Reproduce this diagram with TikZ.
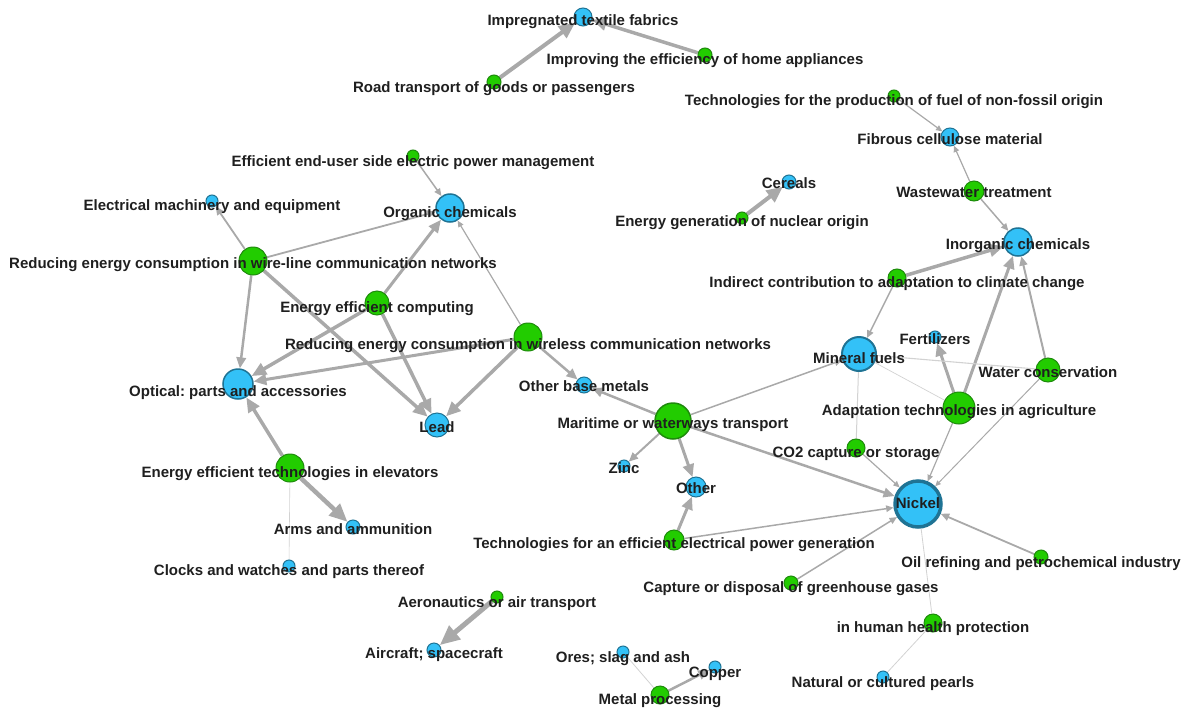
\documentclass[tikz,border=0pt]{standalone}
\usepackage{fontspec}
\setmainfont{Liberation Sans}
\usetikzlibrary{arrows.meta}
\definecolor{bfill}{HTML}{33C1F7}
\definecolor{bline}{HTML}{1F7394}
\definecolor{gfill}{HTML}{22CC00}
\definecolor{gline}{HTML}{1E8A0C}
\definecolor{egray}{HTML}{A9A9A9}
\definecolor{elight}{HTML}{D2D2D2}
\pgfdeclarelayer{bg}
\pgfsetlayers{bg,main}
\frenchspacing
\tikzset{%
    bn/.style={circle, draw=bline, fill=bfill, line width=1pt, inner sep=0pt, minimum size=#1},
    gn/.style={circle, draw=gline, fill=gfill, line width=1pt, inner sep=0pt, minimum size=#1},
    lbl/.style={font=\bfseries\fontsize{15}{17}\selectfont, text=black!88, inner sep=0pt,
        text height=10.5pt, text depth=3pt, yshift=-2pt},
    arr/.style={draw=egray, line width=#1, -{Triangle[length=2pt 3.6, width=2pt 3]}},
    lnk/.style={draw=elight, line width=#1},
}

\begin{document}
\begin{tikzpicture}[x=1pt, y=-1pt]
    \useasboundingbox (0,0) rectangle (1186,707);
    % nodes
    \node [bn=18] (impr)   at (583,17)  {};
    \node [gn=14] (impro)  at (705,55)  {};
    \node [gn=14] (road)   at (494,82)  {};
    \node [gn=12] (tfuel)  at (894,96)  {};
    \node [bn=18] (fibr)   at (950,137) {};
    \node [gn=12] (endu)   at (413,156) {};
    \node [bn=14] (cere)   at (789,182) {};
    \node [gn=20] (waste)  at (974,191) {};
    \node [bn=12] (elmach) at (212,201) {};
    \node [bn=28, line width=1.5pt] (orgch) at (450,208) {};
    \node [gn=12] (nucl)   at (742,218) {};
    \node [bn=28, line width=1.5pt] (inorg) at (1018,242) {};
    \node [gn=28] (wline)  at (253,261) {};
    \node [gn=18] (indir)  at (897,278) {};
    \node [gn=24] (comp)   at (377,303) {};
    \node [bn=12] (fert)   at (935,337) {};
    \node [gn=28] (wless)  at (528,337) {};
    \node [bn=34, line width=2pt] (minf) at (859,354) {};
    \node [gn=24] (water)  at (1048,370) {};
    \node [bn=30, line width=1.5pt] (optic) at (238,384) {};
    \node [bn=16] (obase)  at (584,385) {};
    \node [gn=32] (adapt)  at (959,408) {};
    \node [gn=36, line width=1.5pt] (marit) at (673,421) {};
    \node [bn=24] (lead)   at (437,425) {};
    \node [gn=18] (co2)    at (856,448) {};
    \node [gn=28] (elev)   at (290,468) {};
    \node [bn=12] (zinc)   at (624,466) {};
    \node [bn=20] (other)  at (696,487) {};
    \node [bn=46, line width=3.5pt] (nickel) at (918,504) {};
    \node [bn=14] (arms)   at (353,527) {};
    \node [gn=20] (tpow)   at (674,540) {};
    \node [gn=14] (oil)    at (1041,557) {};
    \node [bn=12] (clock)  at (289,566) {};
    \node [gn=14] (capt)   at (791,583) {};
    \node [gn=12] (aero)   at (497,597) {};
    \node [gn=18] (health) at (933,623) {};
    \node [bn=14] (craft)  at (434,650) {};
    \node [bn=12] (ores)   at (623,652) {};
    \node [bn=12] (copper) at (715,667) {};
    \node [bn=12] (pearl)  at (883,677) {};
    \node [gn=18] (metal)  at (660,695) {};
    % labels
    \node [lbl] (impr-t)   at ([yshift=-3pt]impr)   {Impregnated textile fabrics};
    \node [lbl] (impro-t)  at ([yshift=-4pt]impro)  {Improving the efficiency of home appliances};
    \node [lbl] (road-t)   at ([yshift=-5pt]road)   {Road transport of goods or passengers};
    \node [lbl] (tfuel-t)  at ([yshift=-4pt]tfuel)  {Technologies for the production of fuel of non-fossil origin};
    \node [lbl] (fibr-t)   at ([yshift=-2pt]fibr)   {Fibrous cellulose material};
    \node [lbl] (endu-t)   at ([yshift=-5pt]endu)   {Efficient end-user side electric power management};
    \node [lbl] (cere-t)   at ([yshift=-1pt]cere)   {Cereals};
    \node [lbl] (waste-t)  at ([yshift=-1pt]waste)  {Wastewater treatment};
    \node [lbl] (elmach-t) at ([yshift=-4pt]elmach) {Electrical machinery and equipment};
    \node [lbl] (orgch-t)  at ([yshift=-4pt]orgch)  {Organic chemicals};
    \node [lbl] (nucl-t)   at ([yshift=-3pt]nucl)   {Energy generation of nuclear origin};
    \node [lbl] (inorg-t)  at ([yshift=-2pt]inorg)  {Inorganic chemicals};
    \node [lbl] (wline-t)  at ([yshift=-2pt]wline)  {Reducing energy consumption in wire-line communication networks};
    \node [lbl] (indir-t)  at ([yshift=-4pt]indir)  {Indirect contribution to adaptation to climate change};
    \node [lbl] (comp-t)   at ([yshift=-4pt]comp)   {Energy efficient computing};
    \node [lbl] (fert-t)   at ([yshift=-2pt]fert)   {Fertilizers};
    \node [lbl] (wless-t)  at ([yshift=-7pt]wless)  {Reducing energy consumption in wireless communication networks};
    \node [lbl] (minf-t)   at ([yshift=-4pt]minf)   {Mineral fuels};
    \node [lbl] (water-t)  at ([yshift=-2pt]water)  {Water conservation};
    \node [lbl] (optic-t)  at ([yshift=-7pt]optic)  {Optical: parts and accessories};
    \node [lbl] (obase-t)  at ([yshift=-1pt]obase)  {Other base metals};
    \node [lbl] (adapt-t)  at ([yshift=-2pt]adapt)  {Adaptation technologies in agriculture};
    \node [lbl] (marit-t)  at ([yshift=-2pt]marit)  {Maritime or waterways transport};
    \node [lbl] (lead-t)   at ([yshift=-2pt]lead)   {Lead};
    \node [lbl] (co2-t)    at ([yshift=-4pt]co2)    {CO2 capture or storage};
    \node [lbl] (elev-t)   at ([yshift=-4pt]elev)   {Energy efficient technologies in elevators};
    \node [lbl] (zinc-t)   at ([yshift=-2pt]zinc)   {Zinc};
    \node [lbl] (other-t)  at ([yshift=-1pt]other)  {Other};
    \node [lbl] (nickel-t) at ([yshift=1pt]nickel)  {Nickel};
    \node [lbl] (arms-t)   at ([yshift=-2pt]arms)   {Arms and ammunition};
    \node [lbl] (tpow-t)   at ([yshift=-3pt]tpow)   {Technologies for an efficient electrical power generation};
    \node [lbl] (oil-t)    at ([yshift=-5pt]oil)    {Oil refining and petrochemical industry};
    \node [lbl] (clock-t)  at ([yshift=-4pt]clock)  {Clocks and watches and parts thereof};
    \node [lbl] (capt-t)   at ([yshift=-4pt]capt)   {Capture or disposal of greenhouse gases};
    \node [lbl] (aero-t)   at ([yshift=-5pt]aero)   {Aeronautics or air transport};
    \node [lbl] (health-t) at ([yshift=-4pt]health) {in human health protection};
    \node [lbl] (craft-t)  at ([yshift=-3pt]craft)  {Aircraft; spacecraft};
    \node [lbl] (ores-t)   at ([yshift=-5pt]ores)   {Ores; slag and ash};
    \node [lbl] (copper-t) at ([yshift=-5pt]copper) {Copper};
    \node [lbl] (pearl-t)  at ([yshift=-5pt]pearl)  {Natural or cultured pearls};
    \node [lbl] (metal-t)  at ([yshift=-4pt]metal)  {Metal processing};
    % edges
    \begin{pgfonlayer}{bg}
    \draw [arr=4]   (road) -- (impr);
    \draw [arr=3.5] (impro) -- (impr);
    \draw [arr=1.2] (tfuel) -- (fibr);
    \draw [arr=1.2] (waste) -- (fibr);
    \draw [arr=1.5] (waste) -- (inorg);
    \draw [arr=4]   (nucl) -- (cere);
    \draw [arr=1.5] (endu) -- (orgch);
    \draw [arr=1.8] (wline) -- (elmach);
    \draw [arr=1.8] (wline) -- (orgch);
    \draw [arr=2.5] (wline) -- (optic);
    \draw [arr=3.5] (wline) -- (lead);
    \draw [arr=3]   (comp) -- (orgch);
    \draw [arr=3.5] (comp) -- (optic);
    \draw [arr=3.5] (comp) -- (lead);
    \draw [arr=1.2] (wless) -- (orgch);
    \draw [arr=3]   (wless) -- (optic);
    \draw [arr=3.5] (wless) -- (lead);
    \draw [arr=2.5] (wless) -- (obase);
    \draw [arr=3.5] (elev) -- (optic);
    \draw [arr=4.5] (elev) -- (arms);
    \draw [lnk=0.6] (elev) -- (clock);
    \draw [arr=3.5] (indir) -- (inorg);
    \draw [arr=1.5] (indir) -- (minf);
    \draw [arr=3]   (adapt) -- (inorg);
    \draw [arr=3]   (adapt) -- (fert);
    \draw [arr=1.2] (adapt) -- (nickel);
    \draw [lnk=0.7] (adapt) -- (minf);
    \draw [arr=2]   (water) -- (inorg);
    \draw [arr=1]   (water) -- (nickel);
    \draw [lnk=1.1] (water) -- (minf);
    \draw [arr=1.5] (marit) -- (minf);
    \draw [arr=2.5] (marit) -- (obase);
    \draw [arr=2]   (marit) -- (zinc);
    \draw [arr=3]   (marit) -- (other);
    \draw [arr=2.5] (marit) -- (nickel);
    \draw [lnk=1]   (minf) -- (co2);
    \draw [arr=1.2] (co2) -- (nickel);
    \draw [arr=3]   (tpow) -- (other);
    \draw [arr=1.5] (tpow) -- (nickel);
    \draw [arr=1.5] (capt) -- (nickel);
    \draw [arr=1.8] (oil) -- (nickel);
    \draw [lnk=0.8] (nickel) -- (health);
    \draw [lnk=0.8] (health) -- (pearl);
    \draw [arr=5]   (aero) -- (craft);
    \draw [arr=2.5] (metal) -- (copper);
    \draw [lnk=0.8] (metal) -- (ores);
    \end{pgfonlayer}
\end{tikzpicture}
\end{document}
